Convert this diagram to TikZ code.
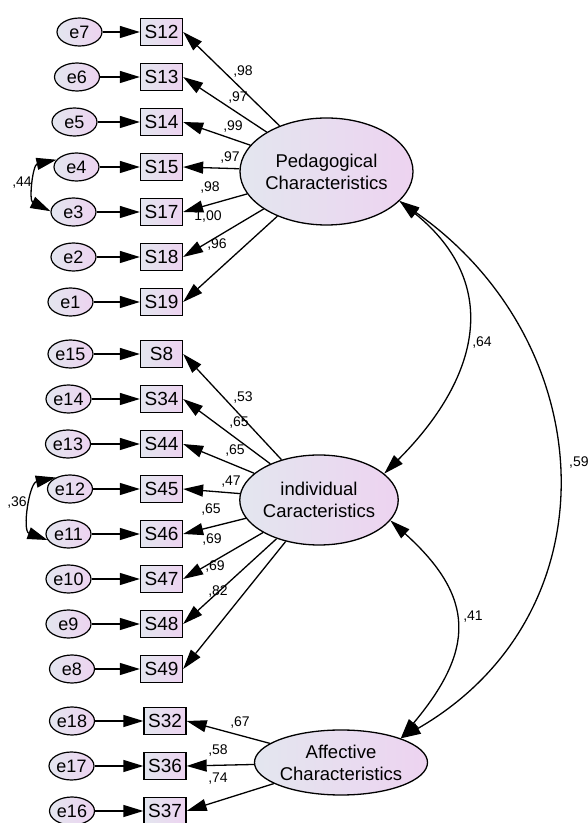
\documentclass[tikz,border=0pt]{standalone}
\usepackage{fontspec}
\setmainfont{Liberation Sans}
\usetikzlibrary{arrows.meta,shapes.geometric}
\definecolor{LavL}{HTML}{E3E6EF}
\definecolor{LavR}{HTML}{EDD3F0}
\tikzset{
  errnode/.style={ellipse,draw,line width=1.2pt,left color=LavL,right color=LavR,minimum width=45pt,minimum height=28pt,inner sep=0pt,font=\fontsize{18}{20}\selectfont},
  obsbox/.style={rectangle,draw,line width=1.3pt,left color=LavL,right color=LavR,minimum width=42pt,minimum height=27pt,inner sep=0pt,font=\fontsize{19}{21}\selectfont},
  latent/.style={ellipse,draw,line width=1.3pt,left color=LavL,right color=LavR,inner sep=0pt,align=center,font=\fontsize{18.5}{22}\selectfont},
  load/.style={-{Triangle[length=20pt,width=12pt]},line width=1.3pt},
  cov/.style={{Triangle[length=20pt,width=12pt]}-{Triangle[length=20pt,width=12pt]},line width=1.3pt},
  coef/.style={inner sep=0pt,font=\fontsize{14}{16}\selectfont}
}
\begin{document}
\begin{tikzpicture}[x=1pt,y=1pt]
      \useasboundingbox (0,0) rectangle (588,823);
      \node[latent,minimum width=137pt,minimum height=107pt] (ped) at (326.5,651.5) {Pedagogical\\Characteristics};
      \node[latent,minimum width=122pt,minimum height=90pt] (ind) at (319,323) {individual\\Caracteristics};
      \node[latent,minimum width=144pt,minimum height=65pt] (aff) at (341,60.5) {Affective\\Characteristics};
      \node[errnode] (e7) at (79.5,791) {e7};   \node[obsbox] (s12) at (161.5,791) {S12};
      \node[errnode] (e6) at (77,746) {e6};     \node[obsbox] (s13) at (161.5,746) {S13};
      \node[errnode] (e5) at (74.5,701) {e5};   \node[obsbox] (s14) at (161.5,701) {S14};
      \node[errnode] (e4) at (76.5,656) {e4};   \node[obsbox] (s15) at (161.5,656) {S15};
      \node[errnode] (e3) at (73.5,611) {e3};   \node[obsbox] (s17) at (161.5,611) {S17};
      \node[errnode] (e2) at (73.5,566) {e2};   \node[obsbox] (s18) at (161.5,566) {S18};
      \node[errnode] (e1) at (70.5,521) {e1};   \node[obsbox] (s19) at (161.5,521) {S19};
      \node[errnode] (e15) at (70.5,469) {e15}; \node[obsbox] (s8) at (161.5,469) {S8};
      \node[errnode] (e14) at (68.5,424) {e14}; \node[obsbox] (s34) at (161.5,424) {S34};
      \node[errnode] (e13) at (68,379) {e13};   \node[obsbox] (s44) at (161.5,379) {S44};
      \node[errnode] (e12) at (70,334) {e12};   \node[obsbox] (s45) at (161.5,334) {S45};
      \node[errnode] (e11) at (68.5,289) {e11}; \node[obsbox] (s46) at (161.5,289) {S46};
      \node[errnode] (e10) at (68.5,244) {e10}; \node[obsbox] (s47) at (161.5,244) {S47};
      \node[errnode] (e9) at (68.5,199) {e9};   \node[obsbox] (s48) at (161.5,199) {S48};
      \node[errnode] (e8) at (72,154) {e8};     \node[obsbox] (s49) at (161.5,154) {S49};
      \node[errnode] (e18) at (72,102) {e18};   \node[obsbox] (s32) at (165,102) {S32};
      \node[errnode] (e17) at (71.5,57) {e17};  \node[obsbox] (s36) at (165,57) {S36};
      \node[errnode] (e16) at (72,12) {e16};    \node[obsbox] (s37) at (165,12) {S37};
      \draw[load] (e7) -- (s12);  \draw[load] (e6) -- (s13);  \draw[load] (e5) -- (s14);
      \draw[load] (e4) -- (s15);  \draw[load] (e3) -- (s17);  \draw[load] (e2) -- (s18);
      \draw[load] (e1) -- (s19);
      \draw[load] (e15) -- (s8);  \draw[load] (e14) -- (s34); \draw[load] (e13) -- (s44);
      \draw[load] (e12) -- (s45); \draw[load] (e11) -- (s46); \draw[load] (e10) -- (s47);
      \draw[load] (e9) -- (s48);  \draw[load] (e8) -- (s49);
      \draw[load] (e18) -- (s32); \draw[load] (e17) -- (s36); \draw[load] (e16) -- (s37);
      \draw[load] (ped) -- (s12.east); \draw[load] (ped) -- (s13.east); \draw[load] (ped) -- (s14.east);
      \draw[load] (ped) -- (s15.east); \draw[load] (ped) -- (s17.east); \draw[load] (ped) -- (s18.east);
      \draw[load] (ped) -- (s19.east);
      \draw[load] (ind) -- (s8.east);  \draw[load] (ind) -- (s34.east); \draw[load] (ind) -- (s44.east);
      \draw[load] (ind) -- (s45.east); \draw[load] (ind) -- (s46.east); \draw[load] (ind) -- (s47.east);
      \draw[load] (ind) -- (s48.east); \draw[load] (ind) -- (s49.east);
      \draw[load] (aff) -- (s32.east); \draw[load] (aff) -- (s36.east); \draw[load] (aff) -- (s37.east);
      \draw[cov] (e4.160) to[out=192,in=154,looseness=1.2] (e3.178);
      \draw[cov] (e12.141) to[out=192,in=160,looseness=1.1] (e11.196);
      \draw[cov] (ped.-22) to[out=-39,in=45,looseness=1.25] (ind.22);
      \draw[cov] (ped.-22) to[out=-35,in=30,looseness=1.18] (aff.22);
      \draw[cov] (ind.-16) to[out=-42,in=50,looseness=1.35] (aff.22);
      \node[coef] (c12) at (243,751) {,98};
      \node[coef] (c13) at (238,725) {,97};
      \node[coef] (c14) at (233,696) {,99};
      \node[coef] (c15) at (230,665) {,97};
      \node[coef] (c17) at (210,635) {,98};
      \node[coef] (c18) at (208,606) {1,00};
      \node[coef] (c19) at (217,578) {,96};
      \node[coef] (c8) at (243,425) {,53};
      \node[coef] (c34) at (239,400) {,65};
      \node[coef] (c44) at (235,372) {,65};
      \node[coef] (c45) at (231,341) {,47};
      \node[coef] (c46) at (211,313) {,65};
      \node[coef] (c47) at (212,283) {,69};
      \node[coef] (c48) at (215,256) {,69};
      \node[coef] (c49) at (218,231) {,82};
      \node[coef] (c32) at (240,100) {,67};
      \node[coef] (c36) at (218,72) {,58};
      \node[coef] (c37) at (218,44) {,74};
      \node[coef] (r43) at (22,640) {,44};
      \node[coef] (r1211) at (17,320) {,36};
      \node[coef] (rpi) at (482,480) {,64};
      \node[coef,anchor=west] (rpa) at (569,360) {,59};
      \node[coef] (ria) at (473,206) {,41};
    \end{tikzpicture}
\end{document}
